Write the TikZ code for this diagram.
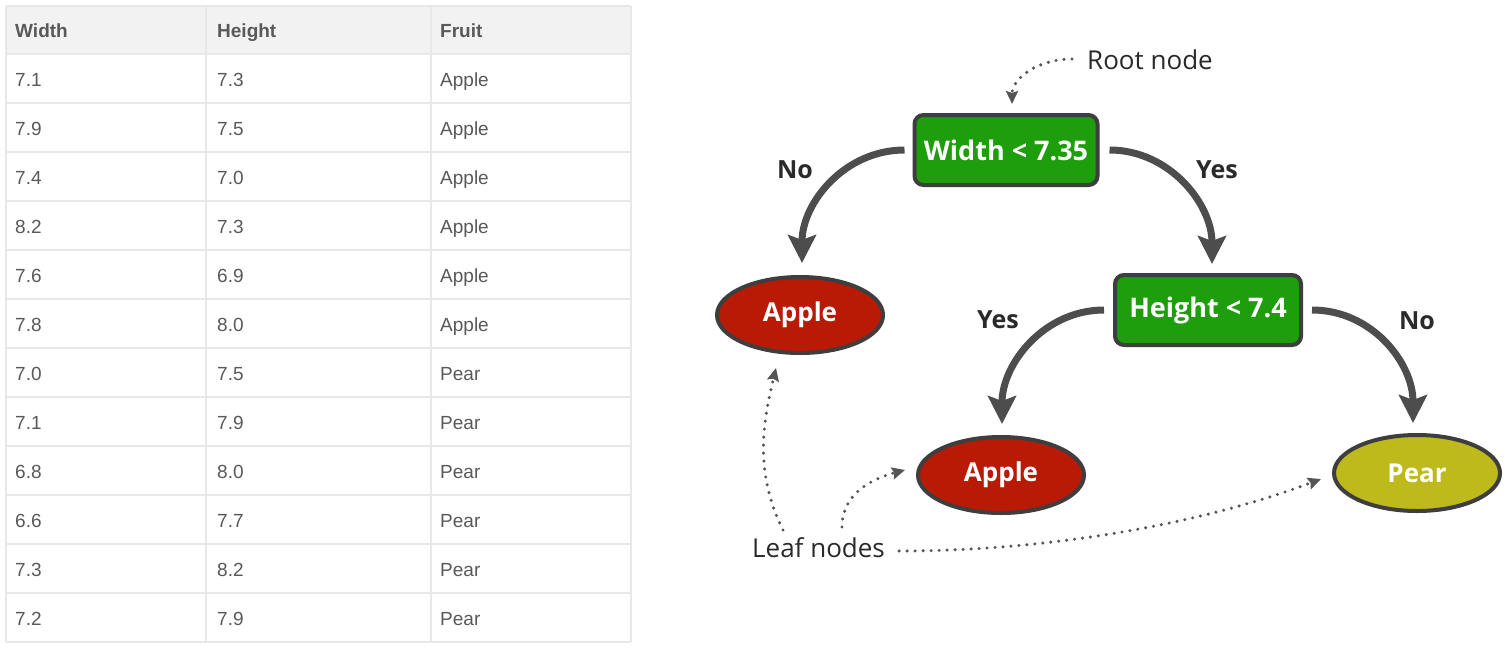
\documentclass[tikz,border=0pt]{standalone}
\usepackage{fontspec}
\setmainfont{Liberation Sans}
\newfontfamily\diagfont{Open Sans}
\usetikzlibrary{arrows.meta,shapes.geometric,shadows,calc}

\definecolor{tgrid}{HTML}{E8E8E8}
\definecolor{thead}{HTML}{F2F2F2}
\definecolor{ttext}{HTML}{595959}
\definecolor{boxgreen}{HTML}{1E9E0C}
\definecolor{applered}{HTML}{B91A05}
\definecolor{pearyel}{HTML}{BEBA1C}
\definecolor{edgegray}{HTML}{3E3E3E}
\definecolor{arrgray}{HTML}{4D4D4D}
\definecolor{dotgray}{HTML}{555555}
\definecolor{lbltext}{HTML}{2A2A2A}

\tikzset{
  cellhead/.style={anchor=base west, inner sep=0pt, text=ttext, font=\bfseries\fontsize{19}{22}\selectfont},
  cellbody/.style={anchor=base west, inner sep=0pt, text=ttext, font=\fontsize{19}{22}\selectfont},
  nodeshadow/.style={drop shadow={shadow xshift=1.5pt, shadow yshift=-1.5pt, opacity=0.3, fill=black}},
  decision/.style={rectangle, rounded corners=9pt, draw=edgegray, line width=4pt, fill=boxgreen,
    text=white, font=\diagfont\bfseries\fontsize{27}{32}\selectfont, minimum height=70pt,
    inner sep=0pt, nodeshadow},
  leafbase/.style={ellipse, draw=edgegray, line width=4pt, text=white,
    font=\diagfont\bfseries\fontsize{26}{30}\selectfont, minimum width=166pt, minimum height=76pt,
    inner sep=0pt, nodeshadow},
  leafapple/.style={leafbase, fill=applered},
  leafpear/.style={leafbase, fill=pearyel},
  branchlbl/.style={inner sep=0pt, text=lbltext, font=\diagfont\bfseries\fontsize{25}{30}\selectfont},
  notelbl/.style={inner sep=0pt, anchor=west, text=lbltext, font=\diagfont\fontsize{26}{30}\selectfont},
  bigarrow/.style={line width=7pt, draw=arrgray, -{Stealth[length=28pt,width=28pt,inset=5pt]}},
  dotarrow/.style={line width=3.4pt, draw=dotgray, dash pattern=on 0pt off 8pt, line cap=round,
    -{Stealth[length=13pt,width=12pt,inset=2pt]}}
}

\begin{document}
\begin{tikzpicture}[x=1pt,y=-1pt]
\useasboundingbox (0,0) rectangle (1511,653);
\fill[white] (0,0) rectangle (1511,653);

% ---------- table ----------
\fill[thead] (6,6) rectangle (631,54);
\foreach \yy in {6,54,103,152,201,250,299,348,397,446,495,544,593,642}
  \draw[tgrid, line width=2pt] (6,\yy) -- (631,\yy);
\foreach \xx in {6,206,431,631}
  \draw[tgrid, line width=2pt] (\xx,6) -- (\xx,642);

\node[cellhead] (hw) at (15,37) {Width};
\node[cellhead] (hh) at (217,37) {Height};
\node[cellhead] (hf) at (440,37) {Fruit};

\foreach \w/\h/\f [count=\i] in {7.1/7.3/Apple,7.9/7.5/Apple,7.4/7.0/Apple,8.2/7.3/Apple,
  7.6/6.9/Apple,7.8/8.0/Apple,7.0/7.5/Pear,7.1/7.9/Pear,6.8/8.0/Pear,6.6/7.7/Pear,
  7.3/8.2/Pear,7.2/7.9/Pear}{
  \pgfmathsetmacro{\yb}{37+49*\i}
  \node[cellbody] (cw\i) at (15,\yb) {\w};
  \node[cellbody] (ch\i) at (217,\yb) {\h};
  \node[cellbody] (cf\i) at (440,\yb) {\f};
}

% ---------- tree ----------
\node[decision, minimum width=183pt] (root) at (1006,150) {Width < 7.35};
\node[decision, minimum width=186pt] (hgt) at (1208,310) {Height < 7.4};
\node[leafapple] (a1) at (800,315) {Apple};
\node[leafapple] (a2) at (1001,475) {Apple};
\node[leafpear] (pear) at (1417,473) {Pear};

\draw[bigarrow] ($(root.west)+(-8,0)$) .. controls +(-60,0) and +(0,-60) .. ($(a1.north)+(2,-12)$);
\draw[bigarrow] ($(root.east)+(10,0)$) .. controls +(60,0) and +(0,-60) .. ($(hgt.north)+(4,-9)$);
\draw[bigarrow] ($(hgt.west)+(-9,0)$) .. controls +(-60,0) and +(0,-60) .. ($(a2.north)+(1,-11)$);
\draw[bigarrow] ($(hgt.east)+(9,0)$) .. controls +(60,0) and +(0,-60) .. ($(pear.north)+(-4,-10)$);

\node[branchlbl] (lno1) at (795,170) {No};
\node[branchlbl] (lyes1) at (1217,170) {Yes};
\node[branchlbl] (lyes2) at (998,320) {Yes};
\node[branchlbl] (lno2) at (1417,321) {No};

% ---------- annotations ----------
\node[notelbl] (rootlbl) at (1087,60) {Root node};
\node[notelbl] (leaflbl) at (752,548) {Leaf nodes};

\draw[dotarrow] ($(rootlbl.west)+(-15,-1)$) .. controls +(-35,0) and +(0,-25) .. ($(root.north)+(6,-9)$);
\draw[dotarrow] ($(leaflbl.west)+(31,-18)$) .. controls +(-30,-60) and +(-12,50) .. ($(a1.south)+(-24,13)$);
\draw[dotarrow] ($(leaflbl.west)+(90,-21)$) .. controls +(0,-35) and +(-30,8) .. ($(a2.west)+(-11,-5)$);
\draw[dotarrow] ($(leaflbl.east)+(14,3)$) .. controls +(150,0) and +(-120,45) .. ($(pear.west)+(-11,6)$);
\end{tikzpicture}
\end{document}
